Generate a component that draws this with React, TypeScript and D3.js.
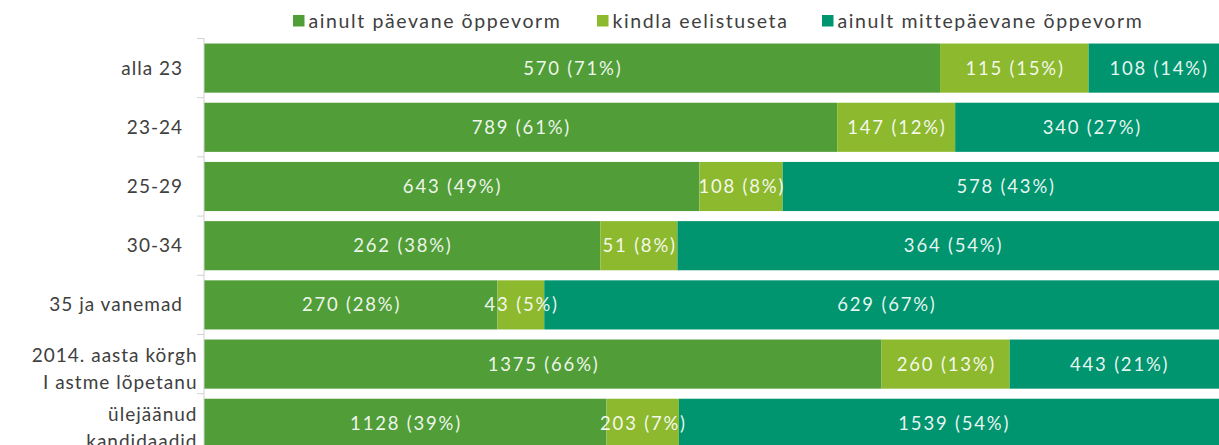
import React, { useRef, useEffect } from "react";
import * as d3 from "d3";

// categories (age groups), top to bottom
const categories = [
  ["alla 23"],
  ["23-24"],
  ["25-29"],
  ["30-34"],
  ["35 ja vanemad"],
  ["2014. aasta körgh", "I astme lõpetanu"],
  ["ülejäänud", "kandidaadid"],
];

const seriesNames = [
  "ainult päevane õppevorm",
  "kindla eelistuseta",
  "ainult mittepäevane õppevorm",
];
const seriesColors = ["#519e38", "#8db92f", "#00956f"];

// counts per category, one array per series
const paevane = [570, 789, 643, 262, 270, 1375, 1128];
const eelistuseta = [115, 147, 108, 51, 43, 260, 203];
const mittepaevane = [108, 340, 578, 364, 629, 443, 1539];

// percent labels as printed on the chart
const paevanePct = [71, 61, 49, 38, 28, 66, 39];
const eelistusetaPct = [15, 12, 8, 8, 5, 13, 7];
const mittepaevanePct = [14, 27, 43, 54, 67, 21, 54];

const W = 1219;
const H = 445;
const FONT = "Lato, 'Open Sans', sans-serif";

export default function App() {
  const svgRef = useRef<SVGSVGElement>(null);

  useEffect(() => {
    const svg = d3.select(svgRef.current);
    svg.selectAll("*").remove();

    const rows = categories.map((c, i) => {
      const vals = [paevane[i], eelistuseta[i], mittepaevane[i]];
      const pcts = [paevanePct[i], eelistusetaPct[i], mittepaevanePct[i]];
      const total = d3.sum(vals);
      let acc = 0;
      const segs = vals.map((v, k) => {
        const s = { k, v, pct: pcts[k], x0: acc / total, x1: (acc + v) / total };
        acc += v;
        return s;
      });
      return { i, label: c, segs };
    });

    // plot runs past the right edge of the picture (cropped)
    const x = d3.scaleLinear().domain([0, 1]).range([204, 1228]);
    const y = d3
      .scaleBand<number>()
      .domain(d3.range(categories.length))
      .range([38.5, 38.5 + 59.2 * categories.length])
      .paddingInner(0.17)
      .paddingOuter(0.085);

    // bars
    const g = svg.append("g");
    const rowG = g
      .selectAll("g.row")
      .data(rows)
      .join("g")
      .attr("class", "row");

    rowG
      .selectAll("rect")
      .data((d) => d.segs.map((s) => ({ ...s, i: d.i })))
      .join("rect")
      .attr("x", (d) => x(d.x0))
      .attr("width", (d) => x(d.x1) - x(d.x0))
      .attr("y", (d) => y(d.i)!)
      .attr("height", y.bandwidth())
      .attr("fill", (d) => seriesColors[d.k]);

    rowG
      .selectAll("text")
      .data((d) => d.segs.map((s) => ({ ...s, i: d.i })))
      .join("text")
      .attr("x", (d) => (x(d.x0) + x(d.x1)) / 2 + 0.8)
      .attr("y", (d) => y(d.i)! + y.bandwidth() / 2 + 6.5)
      .attr("text-anchor", "middle")
      .attr("fill", "#ffffff")
      .attr("fill-opacity", 0.92)
      .style("font-family", FONT)
      .style("font-size", "18.5px")
      .style("letter-spacing", "1.8px")
      .text((d) => `${d.v} (${d.pct}%)`);

    // category axis
    const axis = svg.append("g");
    const step = y.step();
    const top = y.range()[0];
    axis
      .append("line")
      .attr("x1", x(0))
      .attr("x2", x(0))
      .attr("y1", top)
      .attr("y2", H)
      .attr("stroke", "#d0d0d0");
    axis
      .selectAll("line.tick")
      .data(d3.range(categories.length + 1))
      .join("line")
      .attr("class", "tick")
      .attr("x1", x(0) - 7)
      .attr("x2", x(0))
      .attr("y1", (d) => top + d * step)
      .attr("y2", (d) => top + d * step)
      .attr("stroke", "#d0d0d0");

    const labels = axis
      .selectAll("text.cat")
      .data(rows)
      .join("text")
      .attr("class", "cat")
      .attr("text-anchor", "end")
      .attr("fill", "#404040")
      .style("font-family", FONT)
      .style("font-size", "19px")
      .style("letter-spacing", "1px");
    labels
      .selectAll("tspan")
      .data((d) =>
        d.label.map((t, j) => ({ t, j, n: d.label.length, i: d.i }))
      )
      .join("tspan")
      .attr("x", (d) => (d.n > 1 ? 197.5 : 183))
      .attr("y", (d) => {
        const c = y(d.i)! + y.bandwidth() / 2;
        if (d.n === 1) return c + 6.5;
        return c + (d.j === 0 ? -9 : 18.5) + 6.5;
      })
      .text((d) => d.t);

    // legend
    const legendX = [293, 597, 822];
    const lg = svg
      .append("g")
      .selectAll("g")
      .data(seriesNames)
      .join("g")
      .attr("transform", (d, i) => `translate(${legendX[i]},0)`);
    lg.append("rect")
      .attr("x", 0)
      .attr("y", 15)
      .attr("width", 11.5)
      .attr("height", 11.5)
      .attr("fill", (d, i) => seriesColors[i]);
    lg.append("text")
      .attr("x", 15.5)
      .attr("y", 28)
      .attr("fill", "#404040")
      .style("font-family", FONT)
      .style("font-size", "19.5px")
      .style("letter-spacing", "1.6px")
      .text((d) => d);
  }, []);

  return (
    <svg
      ref={svgRef}
      width={W}
      height={H}
      style={{ position: "absolute", left: 0, top: 0, background: "#fff" }}
    />
  );
}
